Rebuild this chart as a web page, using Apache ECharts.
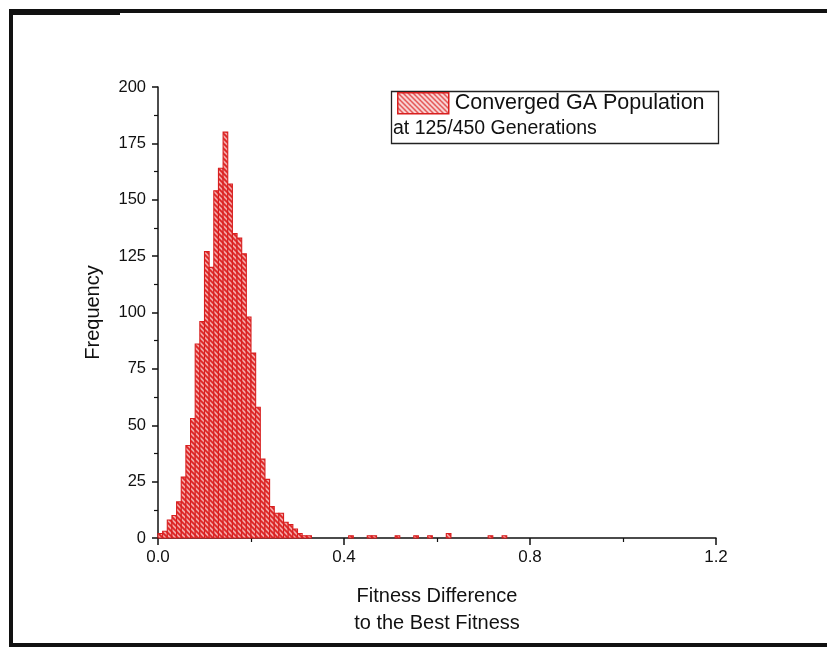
<!DOCTYPE html>
<html>
<head>
<meta charset="utf-8">
<script src="https://cdn.jsdelivr.net/npm/echarts@6/dist/echarts.min.js"></script>
<style>
html,body{margin:0;padding:0;background:#fff;}
#chart{width:827px;height:647px;}
</style>
</head>
<body>
<div id="chart"></div>
<script>
// ---- data ----
const binWidth = 0.01;
const binLeft = [
  0.00, 0.01, 0.02, 0.03, 0.04, 0.05, 0.06, 0.07, 0.08, 0.09,
  0.10, 0.11, 0.12, 0.13, 0.14, 0.15, 0.16, 0.17, 0.18, 0.19,
  0.20, 0.21, 0.22, 0.23, 0.24, 0.25, 0.26, 0.27, 0.28, 0.29,
  0.30, 0.31, 0.32,
  0.41, 0.45, 0.46, 0.51, 0.55, 0.58, 0.62, 0.71, 0.74
];
const frequency = [
  2, 3, 8, 10, 16, 27, 41, 53, 86, 96,
  127, 120, 154, 164, 180, 157, 135, 133, 126, 98,
  82, 58, 35, 26, 14, 11, 11, 7, 6, 4,
  2, 1, 1,
  1, 1, 1, 1, 1, 1, 2, 1, 1
];
const xTicks = [0.0, 0.4, 0.8, 1.2];
const yTicks = [0, 25, 50, 75, 100, 125, 150, 175, 200];
const seriesName = 'Converged GA Population';
const legendLine2 = 'at 125/450 Generations';
const xTitle = 'Fitness Difference\nto the Best Fitness';
const yTitle = 'Frequency';

// ---- hatch patterns ----
function makeHatch(bg, fg, lw){
  const c = document.createElement('canvas');
  c.width = 5; c.height = 5;
  const g = c.getContext('2d');
  g.fillStyle = bg;
  g.fillRect(0,0,5,5);
  g.strokeStyle = fg;
  g.lineWidth = lw;
  g.beginPath();
  [-5,0,5].forEach(k => { g.moveTo(-1, k-1); g.lineTo(6, k+6); });
  g.stroke();
  return c;
}
const barHatch = { image: makeHatch('#f3a6a6', '#de2424', 1.8), repeat: 'repeat' };
const legendHatch = { image: makeHatch('#fbe1e1', '#e03a3a', 1.4), repeat: 'repeat' };
const barStroke = '#d81f1f';

const data = binLeft.map((x, i) => [x, frequency[i]]);

const chart = echarts.init(document.getElementById('chart'), null, {renderer:'canvas'});
const font = 'Liberation Sans, Arial, sans-serif';

chart.setOption({
  animation: false,
  backgroundColor: '#fff',
  grid: { left: 158, right: 111, top: 87, bottom: 109, containLabel: false },
  legend: {
    left: 397, top: 92, padding: 0,
    itemWidth: 51, itemHeight: 21, itemGap: 0,
    textStyle: { fontFamily: font, fontSize: 21.5, color: '#111', padding: [0,0,0,1] },
    data: [{ name: seriesName, icon: 'rect',
      itemStyle: { color: legendHatch, borderColor: barStroke, borderWidth: 1.5 } }]
  },
  xAxis: {
    type: 'value', min: 0, max: 1.2, interval: 0.4,
    name: xTitle, nameLocation: 'middle', nameGap: 45,
    nameTextStyle: { fontFamily: font, fontSize: 20, color: '#111', lineHeight: 27 },
    axisLine: { show: true, onZero: false, lineStyle: { color: '#111', width: 1.5 } },
    axisTick: { show: true, inside: false, length: 7, lineStyle: { color: '#111', width: 1.5 } },
    minorTick: { show: true, splitNumber: 2, length: 4, lineStyle: { color: '#111', width: 1.2 } },
    splitLine: { show: false },
    axisLabel: { fontFamily: font, fontSize: 17, color: '#111', margin: 11,
      formatter: v => v.toFixed(1) }
  },
  yAxis: {
    type: 'value', min: 0, max: 200, interval: 25,
    name: yTitle, nameLocation: 'middle', nameGap: 55, nameRotate: 90,
    nameTextStyle: { fontFamily: font, fontSize: 20, color: '#111' },
    axisLine: { show: true, lineStyle: { color: '#111', width: 1.5 } },
    axisTick: { show: true, inside: false, length: 6, lineStyle: { color: '#111', width: 1.5 } },
    minorTick: { show: true, splitNumber: 2, length: 4, lineStyle: { color: '#111', width: 1.2 } },
    splitLine: { show: false },
    axisLabel: { fontFamily: font, fontSize: 16.5, color: '#111', margin: 12 }
  },
  series: [{
    type: 'custom',
    name: seriesName,
    itemStyle: { color: barHatch, borderColor: barStroke },
    encode: { x: 0, y: 1 },
    data: data,
    renderItem: function(params, api){
      const x0 = api.value(0), y = api.value(1);
      const p0 = api.coord([x0, y]);
      const p1 = api.coord([x0 + binWidth, 0]);
      return {
        type: 'rect',
        shape: { x: p0[0], y: p0[1], width: p1[0] - p0[0], height: p1[1] - p0[1] },
        style: { fill: barHatch, stroke: barStroke, lineWidth: 1.1 }
      };
    }
  }],
  graphic: [
    { type: 'rect', left: 389, top: 89, shape: { width: 327, height: 52 },
      style: { fill: 'none', stroke: '#222', lineWidth: 1.3 }, z: 0 },
    { type: 'text', left: 393, top: 119,
      style: { text: legendLine2, font: '19.5px ' + font, fill: '#111' } },
    // scanned page frame
    { type: 'polyline', shape: { points: [[11, 647], [11, 11], [827, 11]] },
      style: { stroke: '#111', lineWidth: 4, fill: 'none' } },
    { type: 'line', shape: { x1: 9, y1: 12, x2: 120, y2: 12 },
      style: { stroke: '#111', lineWidth: 6 } },
    { type: 'line', shape: { x1: 11, y1: 645, x2: 827, y2: 645 },
      style: { stroke: '#111', lineWidth: 4 } }
  ]
});
</script>
</body>
</html>
